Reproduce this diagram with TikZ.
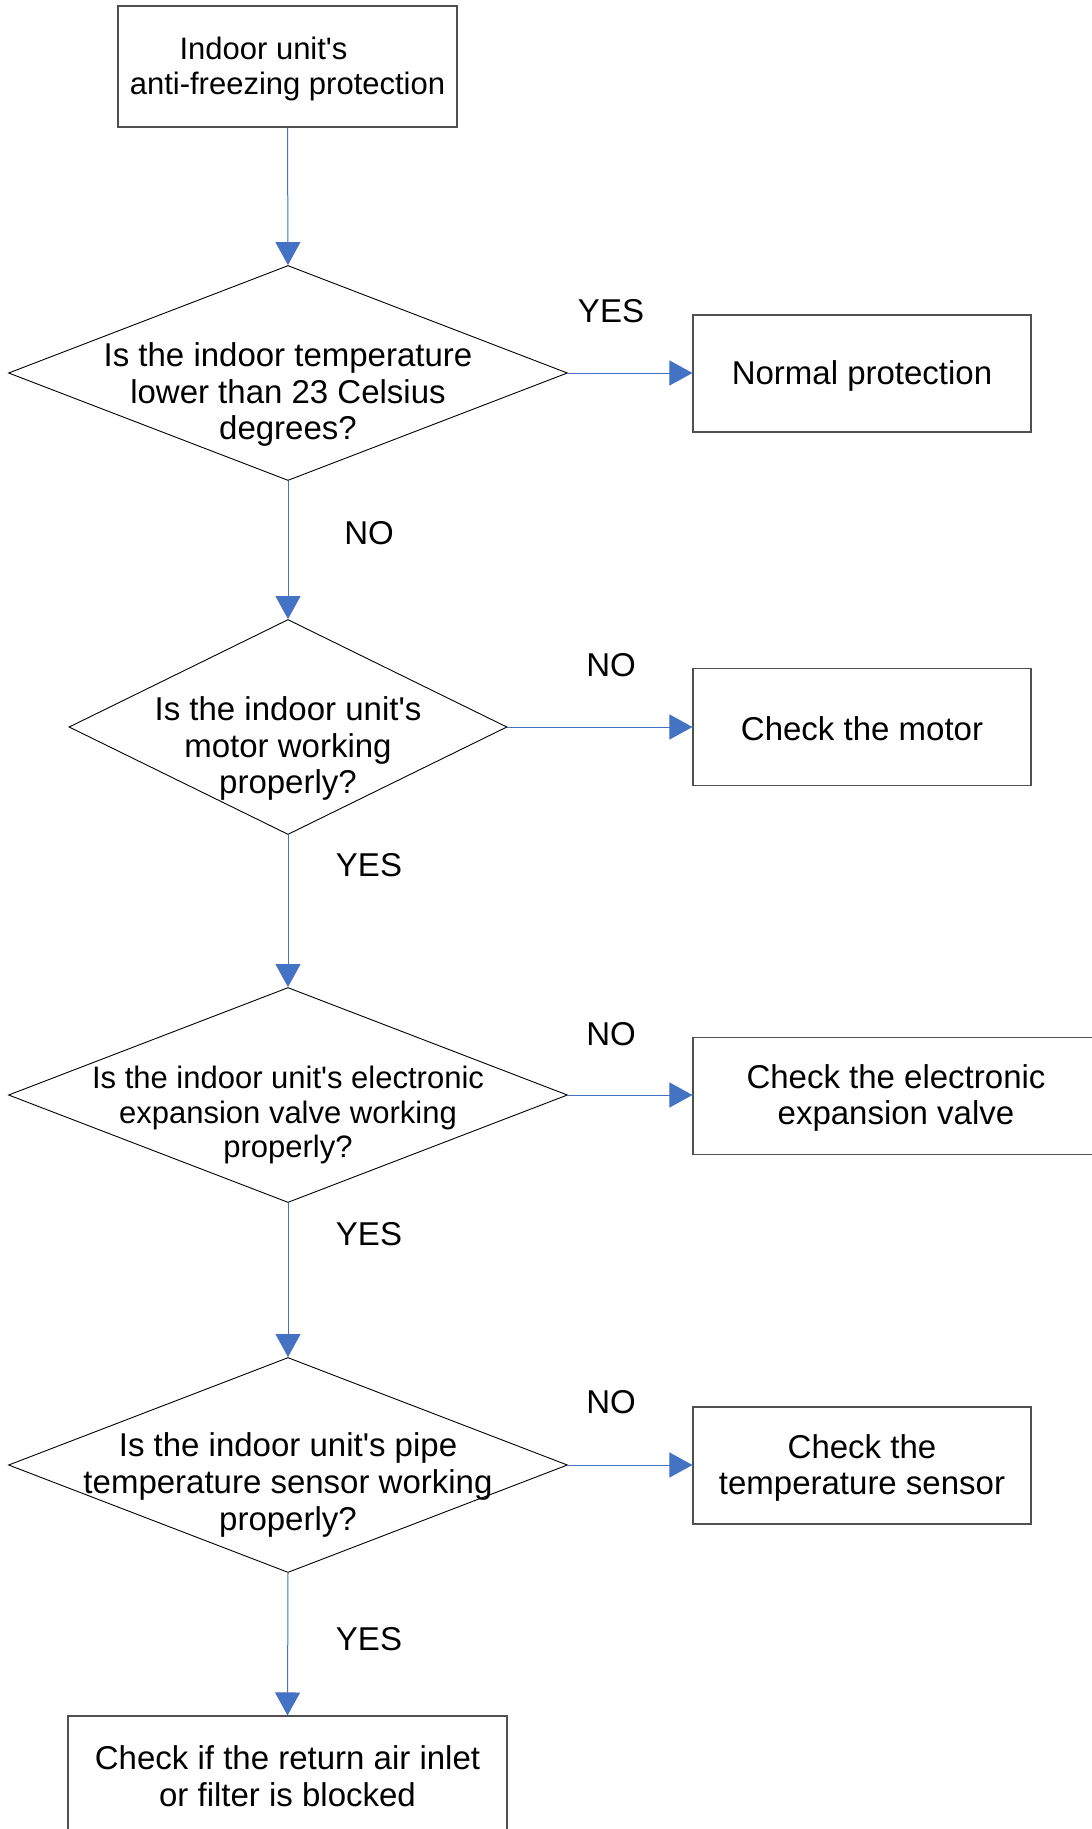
\documentclass[tikz,border=0pt]{standalone}
\usepackage{fontspec}
\setmainfont{Liberation Sans}[Ligatures=TeXOff]
\usetikzlibrary{arrows.meta,shapes.geometric}
\definecolor{flowblue}{HTML}{4472C4}
\definecolor{boxgray}{HTML}{505050}
\begin{document}
\begin{tikzpicture}[x=1pt,y=-1pt,
  txt/.style={font=\fontsize{33}{36.7}\selectfont, align=center, inner sep=0pt},
  smalltxt/.style={font=\fontsize{31}{34.4}\selectfont, align=center, inner sep=0pt},
  procbox/.style={draw=boxgray, line width=1.1pt, rectangle, inner sep=0pt},
  decision/.style={draw=black, line width=0.9pt, diamond, inner sep=0pt},
  flow/.style={draw=flowblue, line width=1pt, -{Triangle[length=23pt,width=25pt]}},
  lab/.style={font=\fontsize{33}{36.7}\selectfont, inner sep=0pt}]
\useasboundingbox (0,0) rectangle (1092,1829);

% start box
\node[procbox, minimum width=339pt, minimum height=121pt] (start) at (287.5,66.5) {};
\node[smalltxt] (startt) at (287.5,69) {Indoor unit's\hspace*{48pt}\\anti-freezing protection};

% decisions
\node[decision, minimum width=559pt, minimum height=215pt] (d1) at (288,373) {};
\node[txt] (d1t) at (288,394.5) {Is the indoor temperature\\lower than 23 Celsius\\degrees?};

\node[decision, minimum width=438pt, minimum height=215pt] (d2) at (288,727) {};
\node[txt] (d2t) at (288,748.5) {Is the indoor unit's\\motor working\\properly?};

\node[decision, minimum width=559pt, minimum height=215pt] (d3) at (288,1095) {};
\node[smalltxt] (d3t) at (288,1115) {Is the indoor unit's electronic\\expansion valve working\\properly?};

\node[decision, minimum width=559pt, minimum height=215pt] (d4) at (288,1465) {};
\node[txt] (d4t) at (288,1485) {Is the indoor unit's pipe\\temperature sensor working\\properly?};

% result boxes
\node[procbox, minimum width=338pt, minimum height=117pt] (r1) at (862,373.5) {};
\node[txt] (r1t) at (862,376) {Normal protection};
\node[procbox, minimum width=338pt, minimum height=117pt] (r2) at (862,727) {};
\node[txt] (r2t) at (862,728.5) {Check the motor};
\node[procbox, minimum width=406pt, minimum height=117pt] (r3) at (896,1096) {};
\node[txt] (r3t) at (896,1098) {Check the electronic\\expansion valve};
\node[procbox, minimum width=338pt, minimum height=117pt] (r4) at (862,1465.5) {};
\node[txt] (r4t) at (862,1468) {Check the\\temperature sensor};
\node[procbox, minimum width=439pt, minimum height=118pt] (last) at (287.5,1775) {};
\node[txt] (lastt) at (287.5,1776) {Check if the return air inlet\\or filter is blocked};

% connectors
\draw[flow] (start.south) -- (d1.north);
\draw[flow] (d1.east) -- (r1.west |- d1.east);
\draw[flow] (d1.south) -- (d2.north);
\draw[flow] (d2.east) -- (r2.west |- d2.east);
\draw[flow] (d2.south) -- (d3.north);
\draw[flow] (d3.east) -- (r3.west |- d3.east);
\draw[flow] (d3.south) -- (d4.north);
\draw[flow] (d4.east) -- (r4.west |- d4.east);
\draw[flow] (d4.south) -- (last.north);

% labels
\node[lab] (l1) at (611,311) {YES};
\node[lab] (l2) at (369,533) {NO};
\node[lab] (l3) at (611,665) {NO};
\node[lab] (l4) at (369,865) {YES};
\node[lab] (l5) at (611,1034) {NO};
\node[lab] (l6) at (369,1234) {YES};
\node[lab] (l7) at (611,1402) {NO};
\node[lab] (l8) at (369,1639) {YES};
\end{tikzpicture}
\end{document}
